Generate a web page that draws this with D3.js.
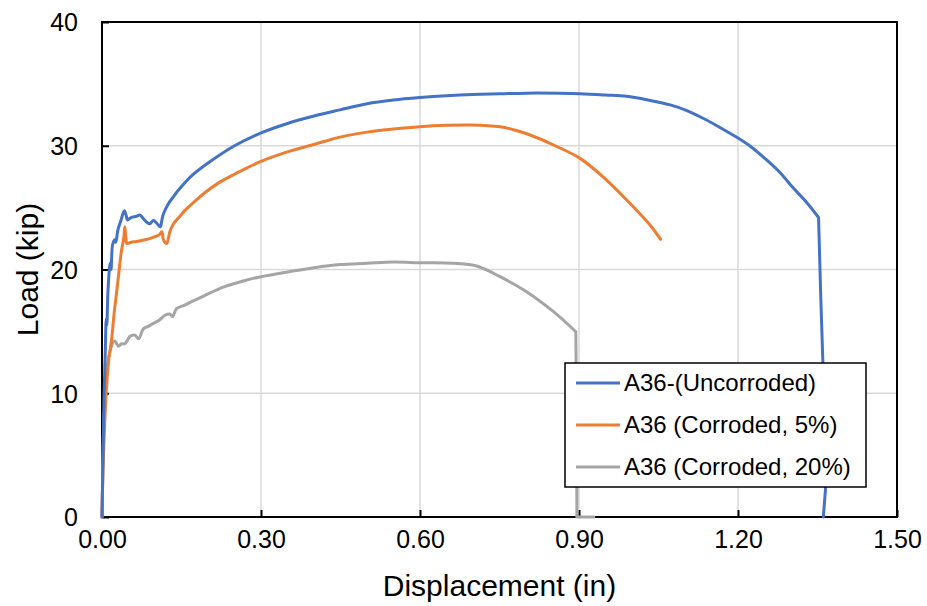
<!DOCTYPE html>
<html>
<head>
<meta charset="utf-8">
<script src="https://cdn.jsdelivr.net/npm/d3@7"></script>
<style>
  body { margin: 0; background: #fff; }
  text { font-family: "Liberation Sans", Arial, sans-serif; fill: #000; }
</style>
</head>
<body>
<script>
// displacement (in), load (kip)
var uncorroded = [
  [0,0],[0.002,5],[0.004,10],[0.006,13],[0.008,16],[0.009,15.5],[0.011,18],[0.013,19.5],
  [0.015,20.5],[0.017,20],[0.020,22],[0.024,22.4],[0.026,22.2],[0.030,23.2],[0.036,24.0],
  [0.042,24.75],[0.046,24.3],[0.048,24.0],[0.055,24.2],[0.065,24.3],[0.072,24.4],[0.078,24.1],
  [0.085,23.8],[0.090,23.7],[0.097,23.95],[0.104,23.7],[0.110,23.45],[0.113,24.0],[0.116,24.5],
  [0.125,25.3],[0.135,25.9],[0.144,26.4],[0.170,27.6],[0.200,28.6],[0.250,30.0],[0.298,31.0],
  [0.350,31.8],[0.400,32.4],[0.449,32.9],[0.500,33.4],[0.550,33.7],[0.600,33.9],[0.650,34.05],
  [0.700,34.15],[0.751,34.2],[0.800,34.25],[0.864,34.24],[0.902,34.2],[0.950,34.1],[0.990,34.0],
  [1.030,33.7],[1.072,33.3],[1.100,32.9],[1.135,32.2],[1.165,31.5],[1.197,30.7],[1.225,29.9],
  [1.254,28.85],[1.280,27.8],[1.304,26.6],[1.330,25.4],[1.352,24.2],[1.356,18],[1.360,12.7],
  [1.364,6],[1.365,2.2],[1.361,0]
];
var corroded5 = [
  [0,0],[0.002,4],[0.005,7.5],[0.009,10.8],[0.013,12.8],[0.018,14.3],[0.023,16.5],[0.028,18.3],
  [0.033,20.2],[0.037,21.6],[0.041,22.5],[0.043,23.45],[0.045,22.6],[0.047,22.1],[0.055,22.2],
  [0.062,22.25],[0.070,22.3],[0.081,22.4],[0.090,22.5],[0.100,22.65],[0.108,22.8],[0.113,23.05],
  [0.116,22.4],[0.122,22.1],[0.128,23.05],[0.135,23.7],[0.147,24.3],[0.157,24.8],[0.175,25.5],
  [0.194,26.2],[0.220,27.0],[0.250,27.7],[0.298,28.7],[0.350,29.5],[0.400,30.1],[0.449,30.7],
  [0.500,31.1],[0.550,31.35],[0.600,31.54],[0.650,31.65],[0.694,31.68],[0.751,31.54],
  [0.780,31.25],[0.808,30.87],[0.852,30.06],[0.902,28.98],[0.952,27.23],[0.996,25.35],
  [1.034,23.6],[1.054,22.44]
];
var corroded20 = [
  [0,0],[0.0025,6.2],[0.005,9],[0.009,11.6],[0.013,13],[0.018,13.8],[0.022,14.2],[0.025,14.2],
  [0.031,13.8],[0.037,14.0],[0.043,14.0],[0.048,14.3],[0.053,14.6],[0.062,14.7],[0.069,14.4],
  [0.078,15.2],[0.087,15.4],[0.097,15.65],[0.108,15.9],[0.119,16.3],[0.128,16.4],[0.133,16.2],
  [0.141,16.85],[0.155,17.1],[0.169,17.4],[0.194,17.9],[0.230,18.6],[0.273,19.15],[0.298,19.4],
  [0.350,19.8],[0.400,20.15],[0.449,20.4],[0.500,20.5],[0.550,20.6],[0.600,20.55],[0.663,20.5],
  [0.707,20.28],[0.751,19.42],[0.801,18.21],[0.852,16.59],[0.894,14.97],
  [0.8955,8],[0.896,0],[0.928,0]
];
var seriesNames = ["A36-(Uncorroded)", "A36 (Corroded, 5%)", "A36 (Corroded, 20%)"];
var seriesColors = ["#4472C4", "#ED7D31", "#A5A5A5"];
var xTicks = [0, 0.3, 0.6, 0.9, 1.2, 1.5];
var yTicks = [0, 10, 20, 30, 40];

var w = 927, h = 606;
var plotL = 102, plotR = 897, plotT = 22, plotB = 517;

var xScale = d3.scaleLinear().domain([0, 1.5]).range([plotL, plotR]);
var yScale = d3.scaleLinear().domain([0, 40]).range([plotB, plotT]);

var svg = d3.select("body").append("svg")
  .attr("width", w)
  .attr("height", h);

// gridlines
svg.append("g")
  .selectAll("line")
  .data(xTicks.slice(1, -1))
  .enter().append("line")
  .attr("x1", d => xScale(d)).attr("x2", d => xScale(d))
  .attr("y1", plotT).attr("y2", plotB)
  .attr("stroke", "#D9D9D9").attr("stroke-width", 1.5);

svg.append("g")
  .selectAll("line")
  .data(yTicks.slice(1, -1))
  .enter().append("line")
  .attr("x1", plotL).attr("x2", plotR)
  .attr("y1", d => yScale(d)).attr("y2", d => yScale(d))
  .attr("stroke", "#D9D9D9").attr("stroke-width", 1.5);

// axes (ticks drawn inside)
var xAxis = d3.axisBottom(xScale).tickValues(xTicks).tickFormat(d3.format(".2f"))
  .tickSizeInner(-7).tickSizeOuter(0).tickPadding(13);
var yAxis = d3.axisLeft(yScale).tickValues(yTicks)
  .tickSizeInner(-7).tickSizeOuter(0).tickPadding(24);

var gx = svg.append("g")
  .attr("transform", "translate(0," + plotB + ")")
  .call(xAxis);
var gy = svg.append("g")
  .attr("transform", "translate(" + plotL + ",0)")
  .call(yAxis);

[gx, gy].forEach(function(g) {
  g.select(".domain").remove();
  g.selectAll(".tick line").attr("stroke", "#000").attr("stroke-width", 2);
  g.selectAll(".tick text").style("font-size", "25px").attr("fill", "#000");
});
gx.selectAll(".tick text").attr("dy", "0.71em");
gy.selectAll(".tick text").attr("dy", "0.35em");

// frame
svg.append("rect")
  .attr("x", plotL).attr("y", plotT)
  .attr("width", plotR - plotL).attr("height", plotB - plotT)
  .attr("fill", "none").attr("stroke", "#000").attr("stroke-width", 2);

// lines: smooth up to fracture (sudden drop > 3 kip), straight after it
var smoothLine = d3.line()
  .curve(d3.curveCatmullRom.alpha(0.5))
  .x(d => xScale(d[0]))
  .y(d => yScale(d[1]));
var straightLine = d3.line()
  .x(d => xScale(d[0]))
  .y(d => yScale(d[1]));

function curvePath(data) {
  var k = data.length - 1;
  for (var i = 1; i < data.length - 1; i++) {
    if (data[i][0] > 0.5 && data[i][1] - data[i + 1][1] > 3) { k = i; break; }
  }
  var p = smoothLine(data.slice(0, k + 1));
  if (k < data.length - 1) p += straightLine(data.slice(k));
  return p;
}

var allSeries = [uncorroded, corroded5, corroded20];
svg.append("g")
  .selectAll("path")
  .data(allSeries.slice().reverse())
  .enter().append("path")
  .attr("d", curvePath)
  .attr("fill", "none")
  .attr("stroke", (d, i) => seriesColors[2 - i])
  .attr("stroke-width", 3)
  .attr("stroke-linejoin", "round")
  .attr("stroke-linecap", "round");

// axis titles
svg.append("text")
  .attr("x", (plotL + plotR) / 2)
  .attr("y", 596)
  .attr("text-anchor", "middle")
  .style("font-size", "30px")
  .text("Displacement (in)");

svg.append("text")
  .attr("transform", "translate(38," + ((plotT + plotB) / 2) + ") rotate(-90)")
  .attr("text-anchor", "middle")
  .style("font-size", "30px")
  .text("Load (kip)");

// legend
var legend = svg.append("g");
legend.append("rect")
  .attr("x", 565).attr("y", 363)
  .attr("width", 301).attr("height", 124)
  .attr("fill", "#fff").attr("stroke", "#000").attr("stroke-width", 1.5);

var items = legend.selectAll(".legend")
  .data(seriesNames)
  .enter().append("g")
  .attr("class", "legend")
  .attr("transform", (d, i) => "translate(0," + (383 + i * 42) + ")");

items.append("line")
  .attr("x1", 576).attr("x2", 620)
  .attr("y1", 0).attr("y2", 0)
  .attr("stroke", (d, i) => seriesColors[i])
  .attr("stroke-width", 3);

items.append("text")
  .attr("x", 624)
  .attr("y", 0)
  .attr("dy", "0.35em")
  .style("font-size", "24px")
  .text(d => d);
</script>
</body>
</html>
